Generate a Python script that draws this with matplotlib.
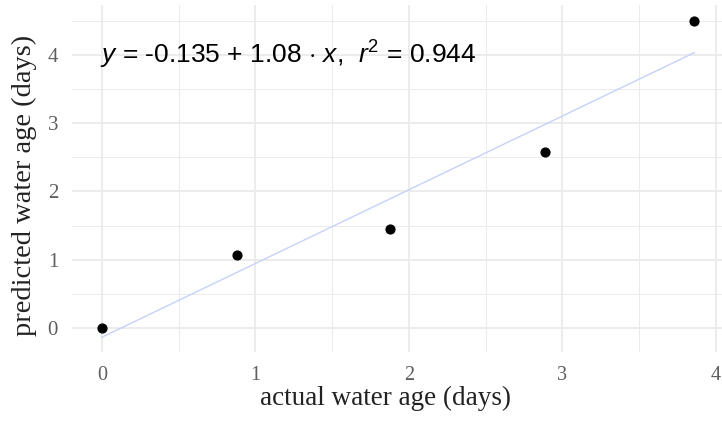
import numpy as np
import matplotlib.pyplot as plt
from matplotlib.ticker import MultipleLocator

# actual vs predicted water age (days)
actual = [0.0, 0.88, 1.88, 2.89, 3.86]
predicted = [0.0, 1.07, 1.45, 2.58, 4.50]
intercept = -0.135
slope = 1.08
r2 = 0.944

plt.rcParams['mathtext.fontset'] = 'custom'
plt.rcParams['mathtext.rm'] = 'Liberation Sans'
plt.rcParams['mathtext.it'] = 'Liberation Sans:italic'

fig = plt.figure(figsize=(7.22, 4.25), dpi=100)
ax = fig.add_axes([0.0997, 0.172, 0.9003, 0.816])

grid_col = '#ebebeb'
ax.xaxis.set_major_locator(MultipleLocator(1))
ax.xaxis.set_minor_locator(MultipleLocator(0.5))
ax.yaxis.set_major_locator(MultipleLocator(1))
ax.yaxis.set_minor_locator(MultipleLocator(0.5))
ax.grid(which='major', color=grid_col, lw=1.3)
ax.grid(which='minor', color=grid_col, lw=0.7)
ax.set_axisbelow(True)
for s in ax.spines.values():
    s.set_visible(False)
ax.tick_params(which='both', length=0)
ax.tick_params(axis='x', labelsize=14.5, labelcolor='#5e5e5e', pad=10)
ax.tick_params(axis='y', labelsize=15, labelcolor='#5e5e5e', pad=10)

ax.set_xlim(-0.195, 4.04)
ax.set_ylim(-0.35, 4.73)

xs = np.array([min(actual), max(actual)])
ax.plot(xs, intercept + slope * xs, color='#c7d1fb', lw=1)
ax.scatter(actual, predicted, s=40, color='black', zorder=3)

ax.text(-0.01, 4, r'$y$ = -0.135 + 1.08 $\cdot$ $x$,  $r^2$ = %.3f' % r2,
        fontsize=19, family='Liberation Sans', va='center', ha='left')

ax.set_xlabel('actual water age (days)', family='Liberation Serif', fontsize=19.5, color='#222222')
ax.set_ylabel('predicted water age (days)', family='Liberation Serif', fontsize=20.5, color='#222222')
ax.xaxis.set_label_coords(0.483, -0.098)
ax.yaxis.label.set_va('center')
ax.yaxis.set_label_coords(-0.073, 0.481)
for lab in ax.get_xticklabels() + ax.get_yticklabels():
    lab.set_family('Liberation Serif')

fig.savefig('out.png', dpi=100)
